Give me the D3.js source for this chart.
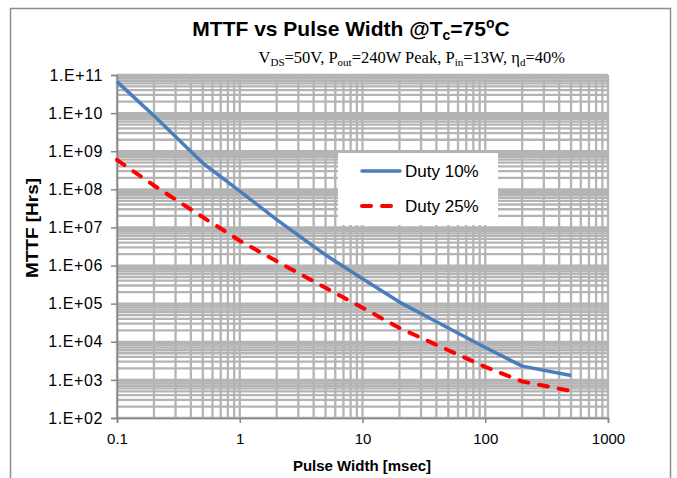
<!DOCTYPE html>
<html><head><meta charset="utf-8">
<script src="https://cdn.jsdelivr.net/npm/d3@7/dist/d3.min.js"></script>
<style>body{margin:0;background:#fff}svg{display:block}</style>
</head><body><svg id="c" width="677" height="478"></svg>
<script>
// ---- data ----
const pulseWidths = [0.1, 0.2, 0.5, 1, 2, 5, 10, 20, 50, 100, 200, 500];
const duty10 = [6.7e10, 8.5e9, 4.9e8, 9.0e7, 1.6e7, 1.9e6, 4.5e5, 1.1e5, 2.3e4, 7.1e3, 2.3e3, 1.3e3];
const duty25 = [5.9e8, 1.26e8, 1.86e7, 4.5e6, 1.3e6, 2.6e5, 7.8e4, 2.3e4, 6.0e3, 2.2e3, 9.1e2, 5.1e2];
const seriesNames = ["Duty 10%", "Duty 25%"];
const yTickValues = [1e2, 1e3, 1e4, 1e5, 1e6, 1e7, 1e8, 1e9, 1e10, 1e11];
const yTickLabels = ["1.E+02","1.E+03","1.E+04","1.E+05","1.E+06","1.E+07","1.E+08","1.E+09","1.E+10","1.E+11"];
const xTickValues = [0.1, 1, 10, 100, 1000];
const xTickLabels = ["0.1", "1", "10", "100", "1000"];

const svg = d3.select("#c");
const L = 117, R = 608, T = 75, B = 418;
const x = d3.scaleLog().domain([0.1, 1000]).range([L, R]);
const y = d3.scaleLog().domain([1e2, 1e11]).range([B, T]);
const SANS = "Liberation Sans, Arial, sans-serif";

// outer frame
svg.append("rect").attr("x", 10.5).attr("y", 8.5).attr("width", 660).attr("height", 490)
  .attr("fill", "#fff").attr("stroke", "#8c8c8c").attr("stroke-width", 1.5);

// gridlines
const minor = (lo, hi) => { const v = []; for (let d = lo; d < hi * 0.999; d *= 10) for (let k = 1; k <= 9; k++) v.push(d * k); v.push(hi); return v; };
const xGrid = minor(0.1, 1000), yGrid = minor(1e2, 1e11);
const g = svg.append("g").attr("stroke", "#b4b4b4").attr("stroke-width", 2.3);
g.selectAll(".hx").data(yGrid).join("line").attr("x1", L).attr("x2", R).attr("y1", d => y(d)).attr("y2", d => y(d));
g.selectAll(".vx").data(xGrid).join("line").attr("y1", T).attr("y2", B).attr("x1", d => x(d)).attr("x2", d => x(d));

// axes
const axisColor = "#868686";
const yAxis = svg.append("g").attr("transform", `translate(${L},0)`)
  .call(d3.axisLeft(y).tickValues(yTickValues).tickFormat((d, i) => yTickLabels[i]).tickSizeOuter(0).tickSize(6).tickPadding(8));
const xAxis = svg.append("g").attr("transform", `translate(0,${B})`)
  .call(d3.axisBottom(x).tickValues(xTickValues).tickFormat((d, i) => xTickLabels[i]).tickSizeOuter(0).tickSize(5).tickPadding(10));
[yAxis, xAxis].forEach(a => {
  a.select(".domain").attr("stroke", axisColor).attr("stroke-width", 1.5);
  a.selectAll(".tick line").attr("stroke", axisColor).attr("stroke-width", 1.5);
  a.selectAll("text").attr("fill", "#000").attr("font-family", SANS).attr("font-size", 15);
});
yAxis.selectAll("text").attr("font-size", 16).attr("letter-spacing", 0.6);

// lines
const line = d3.line().x(d => x(d[0])).y(d => y(d[1]));
svg.append("path").datum(pulseWidths.map((p, i) => [p, duty10[i]])).attr("d", line)
  .attr("fill", "none").attr("stroke", "#4a7ebb").attr("stroke-width", 3.5).attr("stroke-linejoin", "round");
svg.append("path").datum(pulseWidths.map((p, i) => [p, duty25[i]])).attr("d", line)
  .attr("fill", "none").attr("stroke", "#ff0000").attr("stroke-width", 4).attr("stroke-dasharray", "9,11").attr("stroke-linecap", "round");

// legend
const lg = svg.append("g");
lg.append("rect").attr("x", 338).attr("y", 153).attr("width", 160).attr("height", 72).attr("fill", "#fff");
const legendItems = [
  { name: seriesNames[0], color: "#4a7ebb", dash: null, w: 3.5, yy: 171 },
  { name: seriesNames[1], color: "#ff0000", dash: "9,11", w: 4, yy: 206 }
];
legendItems.forEach(it => {
  const ln = lg.append("line").attr("x1", 362).attr("x2", 400).attr("y1", it.yy).attr("y2", it.yy)
    .attr("stroke", it.color).attr("stroke-width", it.w).attr("stroke-linecap", "round");
  if (it.dash) ln.attr("stroke-dasharray", it.dash);
  lg.append("text").attr("x", 405).attr("y", it.yy + 6).text(it.name)
    .attr("font-family", SANS).attr("font-size", 17);
});

// title
const title = svg.append("text").attr("x", 351).attr("y", 36).attr("text-anchor", "middle")
  .attr("font-family", SANS).attr("font-weight", "bold").attr("font-size", 21);
title.append("tspan").text("MTTF vs Pulse Width @T");
title.append("tspan").attr("font-size", 14).attr("dy", 4).text("c");
title.append("tspan").attr("dy", -4).text("=75");
title.append("tspan").attr("font-size", 14).attr("dy", -8).text("o");
title.append("tspan").attr("dy", 8).text("C");

// subtitle
const sub = svg.append("text").attr("x", 565).attr("y", 63).attr("text-anchor", "end")
  .attr("font-family", "Liberation Serif, Times New Roman, serif").attr("font-size", 16.5);
const parts = [["V",0],["DS",1],["=50V,  P",0],["out",1],["=240W Peak,  P",0],["in",1],["=13W,  η",0],["d",1],["=40%",0]];
let prevSub = 0;
parts.forEach(([t, s]) => {
  const ts = sub.append("tspan").text(t);
  if (s) ts.attr("font-size", 11);
  const dy = (s ? 3 : 0) - (prevSub ? 3 : 0);
  if (dy) ts.attr("dy", dy);
  prevSub = s;
});

// axis titles
svg.append("text").attr("x", 362).attr("y", 471).attr("text-anchor", "middle")
  .attr("font-family", SANS).attr("font-weight", "bold").attr("font-size", 15)
  .text("Pulse Width [msec]");
svg.append("text").attr("transform", "translate(38,228) rotate(-90)").attr("text-anchor", "middle")
  .attr("font-family", SANS).attr("font-weight", "bold").attr("font-size", 16)
  .attr("textLength", 100).attr("lengthAdjust", "spacingAndGlyphs")
  .text("MTTF [Hrs]");
</script></body></html>
